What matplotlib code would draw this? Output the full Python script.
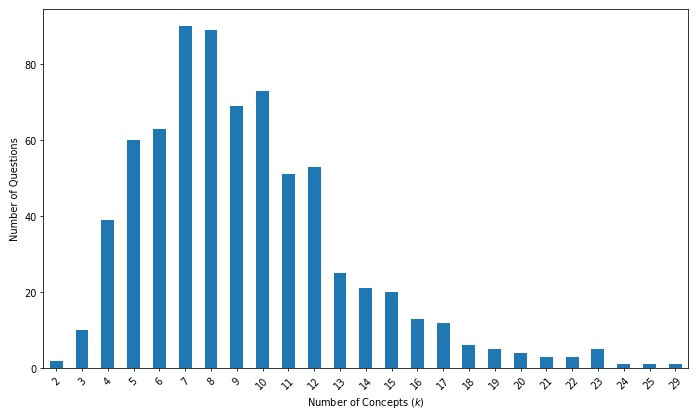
import matplotlib
matplotlib.use("Agg")
import matplotlib.pyplot as plt
import numpy as np

# number of concepts k and how many questions have that k
concepts = ["2", "3", "4", "5", "6", "7", "8", "9", "10", "11", "12", "13", "14",
            "15", "16", "17", "18", "19", "20", "21", "22", "23", "24", "25", "29"]
questions = [2, 10, 39, 60, 63, 90, 89, 69, 73, 51, 53, 25, 21,
             20, 13, 12, 6, 5, 4, 3, 3, 5, 1, 1, 1]

fig, ax = plt.subplots(figsize=(10, 6), dpi=69.8)
fig.subplots_adjust(left=0.062, right=0.986, top=0.976, bottom=0.119)

x = np.arange(len(concepts))
ax.bar(x, questions, width=0.5, color="#1f77b4")
ax.set_xticks(x)
ax.set_xticklabels(concepts, rotation=45)
ax.set_xlim(-0.5, len(concepts) - 0.5)

ax.set_xlabel("Number of Concepts ($k$)")
ax.set_ylabel("Number of Questions")

fig.savefig("out.png", dpi=69.8)
